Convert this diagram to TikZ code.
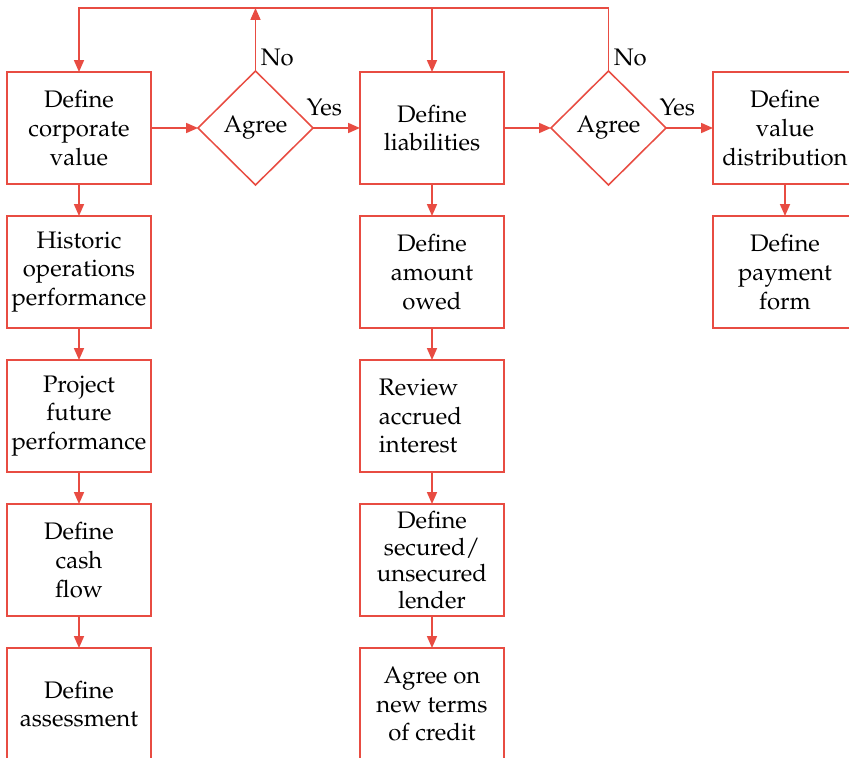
\documentclass[tikz,border=0pt]{standalone}
\usepackage[T1]{fontenc}
\usepackage{mathpazo}
\usetikzlibrary{positioning,shapes.geometric,arrows.meta}
\definecolor{flowRed}{RGB}{232,76,66}
\tikzstyle{flowBox} = [draw=flowRed, line width=0.65pt, minimum width=2.117cm, minimum height=1.646cm, inner sep=0pt, outer sep=0pt, align=center]
\tikzstyle{decisionBox} = [draw=flowRed, line width=0.65pt, diamond, aspect=1, minimum width=1.69cm, minimum height=1.676cm, inner sep=0pt, outer sep=0pt]
\tikzstyle{flowLine} = [draw=flowRed, line width=0.65pt, -{Triangle[length=5pt,width=4.2pt]}]
\tikzstyle{plainLine} = [draw=flowRed, line width=0.65pt]
\tikzstyle{flowLabel} = [inner sep=2pt, anchor=south west]
\newcommand{\flowArrow}[2]{\draw [flowLine] (#1) -- (#2);}

\begin{document}
\begin{tikzpicture}[x=0.0147cm, y=-0.0147cm, node distance=0.47cm and 0.69cm]
  \useasboundingbox (0,0) rectangle (849,757);
  \clip (0,0) rectangle (849,757);
  \coordinate (topLine) at (0,8);

  \node [flowBox] (corpValue) at (79,128) {Define\\corporate\\value};
  \node [decisionBox, right=of corpValue] (agreeA) {Agree};
  \node [flowBox, right=of agreeA] (liab) {Define\\liabilities};
  \node [decisionBox, right=of liab] (agreeB) {Agree};
  \node [flowBox, right=of agreeB] (valueDist) {Define\\value\\distribution};

  \node [flowBox, below=of corpValue] (histPerf) {Historic\\operations\\performance};
  \node [flowBox, below=of histPerf] (projPerf) {Project\\future\\performance};
  \node [flowBox, below=of projPerf] (cashFlow) {Define\\cash\\flow};
  \node [flowBox, below=of cashFlow] (assess) {Define\\assessment};

  \node [flowBox, below=of liab] (amountOwed) {Define\\amount\\owed};
  \node [flowBox, below=of amountOwed, text width=1.56cm, align=left] (accrued) {Review\\accrued\\interest};
  \node [flowBox, below=of accrued, font=\fontsize{10}{11.2}\selectfont] (lender) {Define\\secured/\\unsecured\\lender};
  \node [flowBox, below=of lender] (creditTerms) {Agree on\\new terms\\of credit};

  \node [flowBox, below=of valueDist] (payForm) {Define\\payment\\form};

  \flowArrow{corpValue}{agreeA}
  \flowArrow{agreeA}{liab}
  \flowArrow{liab}{agreeB}
  \flowArrow{agreeB}{valueDist}

  \flowArrow{corpValue}{histPerf}
  \flowArrow{histPerf}{projPerf}
  \flowArrow{projPerf}{cashFlow}
  \flowArrow{cashFlow}{assess}
  \flowArrow{liab}{amountOwed}
  \flowArrow{amountOwed}{accrued}
  \flowArrow{accrued}{lender}
  \flowArrow{lender}{creditTerms}
  \flowArrow{valueDist}{payForm}

  \draw [flowLine] (agreeB.north) |- (corpValue.north |- topLine) -- (corpValue.north);
  \draw [flowLine] (liab.north |- topLine) -- (liab.north);
  \draw [flowLine] (agreeA.north) -- (agreeA.north |- topLine);

  \node [flowLabel] (noA) at (agreeA.north) {No};
  \node [flowLabel] (yesA) at ([xshift=-0.17cm, yshift=0.1cm]agreeA.east) {Yes};
  \node [flowLabel] (noB) at (agreeB.north) {No};
  \node [flowLabel] (yesB) at ([xshift=-0.17cm, yshift=0.1cm]agreeB.east) {Yes};
\end{tikzpicture}
\end{document}
